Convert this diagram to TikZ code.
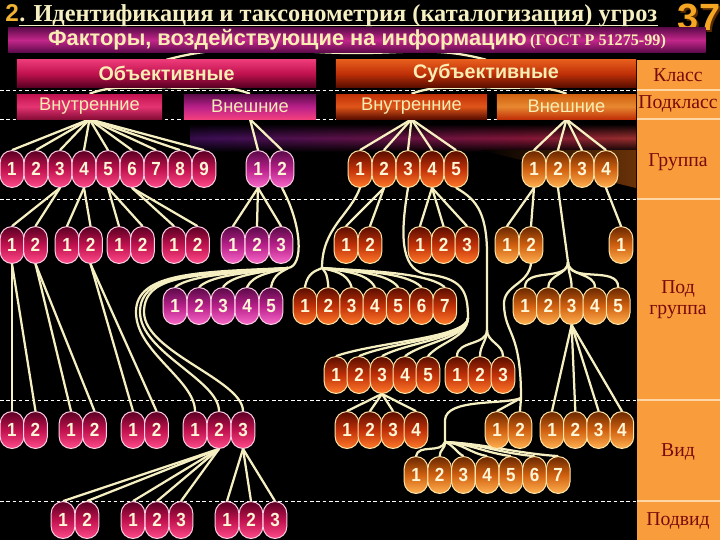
\documentclass[tikz,border=0pt]{standalone}
\usepackage{fontspec}
\setmainfont{Liberation Serif}
\setsansfont{Liberation Sans}
\newfontfamily\pillfont[FakeStretch=0.9]{Liberation Sans}
\usetikzlibrary{fadings}

\definecolor{cream}{HTML}{F5EFC2}
\definecolor{ivory}{HTML}{FFF6D6}
\definecolor{bartext}{HTML}{F8EEB4}
\definecolor{gold}{HTML}{F2B233}
\definecolor{num37}{HTML}{F5A623}
\definecolor{shadow37}{HTML}{5A2A00}
\definecolor{panel}{HTML}{F89C3C}
\definecolor{panelrule}{HTML}{FFD6A6}
\definecolor{paneltext}{HTML}{7A0A0A}
\definecolor{bandpurple}{HTML}{45105E}
\definecolor{bandred}{HTML}{90183E}
\definecolor{bandorange}{HTML}{D86A1C}
\definecolor{slopeorange}{HTML}{6A3208}
\definecolor{crimT}{HTML}{5A0022}
\definecolor{crimM}{HTML}{C0124E}
\definecolor{crimB}{HTML}{FF4A8A}
\definecolor{pinkT}{HTML}{5A0A48}
\definecolor{pinkM}{HTML}{B8208A}
\definecolor{pinkB}{HTML}{F868C8}
\definecolor{redT}{HTML}{5A0E00}
\definecolor{redM}{HTML}{C03008}
\definecolor{redB}{HTML}{FF7A2A}
\definecolor{orT}{HTML}{6A2800}
\definecolor{orM}{HTML}{D06010}
\definecolor{orB}{HTML}{FFB050}
\definecolor{pinkrim}{HTML}{FFD0E6}
\definecolor{goldrim}{HTML}{FFE6A8}

\pgfdeclarelayer{back}
\pgfdeclarelayer{wires}
\pgfsetlayers{back,wires,main}

\pgfdeclarehorizontalshading{bandshade}{100bp}{color(0bp)=(black); color(28bp)=(bandpurple); color(62bp)=(bandred); color(100bp)=(bandorange)}
\tikzfading[name=bandfade, top color=transparent!100, bottom color=transparent!100, middle color=transparent!10]

\begin{document}
\begin{tikzpicture}[x=0.025cm,y=0.025cm,
    link/.style={draw=cream,line width=1.6pt},
    rowrule/.style={draw=white,line width=0.5pt,dash pattern=on 2.5pt off 2pt},
    pill/.style={rectangle,rounded corners=0.29cm,minimum width=0.59cm,minimum height=0.92cm,inner sep=0pt,line width=0.7pt,text=ivory,font=\pillfont\bfseries\fontsize{13.5}{13.5}\selectfont},
    crimpill/.style={pill,draw=pinkrim,top color=crimT,bottom color=crimB,middle color=crimM},
    pinkpill/.style={pill,draw=pinkrim,top color=pinkT,bottom color=pinkB,middle color=pinkM},
    redpill/.style={pill,draw=goldrim,top color=redT,bottom color=redB,middle color=redM},
    orpill/.style={pill,draw=goldrim,top color=orT,bottom color=orB,middle color=orM},
    bar/.style={rectangle,inner sep=0pt,text=bartext},
    classbar/.style={bar,minimum height=0.675cm,font=\sffamily\bfseries\fontsize{14}{14}\selectfont},
    subbar/.style={bar,minimum height=0.625cm,font=\sffamily\fontsize{13}{13}\selectfont},
    lbl/.style={text=paneltext,align=center,font=\fontsize{14}{15}\selectfont}]

\useasboundingbox (0,0) rectangle (720,-540);

% background, band, level rules and panel
\begin{pgfonlayer}{back}
\fill[black] (0,0) rectangle (720,-540);
\shade[shading=bandshade,path fading=bandfade] (190,-124) rectangle (636,-152);
\shade[left color=black,right color=slopeorange] (480,-150) -- (636,-150) -- (636,-188) -- cycle;
\fill[panel] (637,-60) rectangle (720,-540);
\foreach \y in {90,119,199,400,501} {
    \draw[panelrule,line width=1pt] (637,-\y) -- (720,-\y);
    \draw[rowrule] (0,-\y) -- (636,-\y);
}
\end{pgfonlayer}

% title
\node[anchor=base west,inner sep=0pt,text=gold,font=\sffamily\bfseries\fontsize{17.3}{17.3}\selectfont] (tnum) at (5,-21) {2};
\node[anchor=base west,inner sep=0pt,text=cream,font=\bfseries\fontsize{17.3}{17.3}\selectfont] (ttext) at (tnum.base east) {. Идентификация и таксонометрия (каталогизация) угроз};
\draw[cream,line width=0.8pt] ([yshift=-3pt]ttext.base west) -- ([yshift=-3pt]ttext.base east);
\node[text=shadow37,font=\sffamily\bfseries\fontsize{27}{27}\selectfont] (pnumsh) at (701,-19) {37};
\node[text=num37,font=\sffamily\bfseries\fontsize{27}{27}\selectfont] (pnum) at (699,-17) {37};

% bars
\node[bar,minimum width=17.43cm,minimum height=0.64cm,top color=pinkT,bottom color=pinkT,middle color=pinkM!85!crimB] (fact) at (357,-40)
    {{\sffamily\bfseries\fontsize{15.5}{15.5}\selectfont Факторы, воздействующие на информацию} {\bfseries\fontsize{11.5}{11.5}\selectfont(ГОСТ Р 51275-99)}};
\node[classbar,minimum width=7.475cm,top color=crimB!70!crimM,bottom color=crimT,middle color=crimM] (obj) at (166.5,-73.5) {Объективные};
\node[classbar,minimum width=7.5cm,top color=redB!60!redM,bottom color=redT,middle color=redM] (subj) at (486,-73.5) {Субъективные};
\node[subbar,minimum width=3.625cm,top color=crimM,bottom color=crimM!70!black,middle color=crimB!60!crimM] (oin) at (89.5,-106.5) {Внутренние};
\node[subbar,minimum width=3.3cm,top color=pinkT,bottom color=crimB!80!crimM,middle color=pinkM] (oex) at (250,-106.5) {Внешние};
\node[subbar,minimum width=3.775cm,top color=redM,bottom color=redT,middle color=redB!50!redM] (sin) at (411.5,-106.5) {Внутренние};
\node[subbar,minimum width=3.475cm,top color=orM,bottom color=redM,middle color=orB!50!orM] (sex) at (566.5,-106.5) {Внешние};

% level labels
\node[lbl] (lklass) at (678,-75) {Класс};
\node[lbl] (lpodkl) at (678,-104) {Подкласс};
\node[lbl] (lgrp) at (678,-162) {Группа};
\node[lbl] (lpodgr) at (678,-300) {Под\\группа};
\node[lbl] (lvid) at (678,-452) {Вид};
\node[lbl] (lpodvid) at (678,-521) {Подвид};

% groups
\foreach \i in {1,...,9} \node[crimpill] (go\i) at ({12+24*(\i-1)},-169) {\i};
\foreach \i in {1,2} \node[pinkpill] (gx\i) at ({258+24*(\i-1)},-169) {\i};
\foreach \i in {1,...,5} \node[redpill] (gs\i) at ({360+24*(\i-1)},-169) {\i};
\foreach \i in {1,...,4} \node[orpill] (gt\i) at ({534+24*(\i-1)},-169) {\i};

% subgroups
\foreach \n/\x in {pa/12,pb/67,pc/119,pd/174}
    \foreach \i in {1,2} \node[crimpill] (\n\i) at ({\x+23.5*(\i-1)},-245) {\i};
\foreach \i in {1,2,3} \node[pinkpill] (pe\i) at ({233+24*(\i-1)},-245) {\i};
\foreach \i in {1,2} \node[redpill] (pf\i) at ({346+24*(\i-1)},-245) {\i};
\foreach \i in {1,2,3} \node[redpill] (pg\i) at ({420+23.5*(\i-1)},-245) {\i};
\foreach \i in {1,2} \node[orpill] (ph\i) at ({507+24*(\i-1)},-245) {\i};
\node[orpill] (pi1) at (621,-245) {1};
\foreach \i in {1,...,5} \node[pinkpill] (qa\i) at ({175+24*(\i-1)},-306) {\i};
\foreach \i in {1,...,7} \node[redpill] (qb\i) at ({305+23.3*(\i-1)},-306) {\i};
\foreach \i in {1,...,5} \node[orpill] (qc\i) at ({525+23.3*(\i-1)},-306) {\i};
\foreach \i in {1,...,5} \node[redpill] (ra\i) at ({336+23*(\i-1)},-375) {\i};
\foreach \i in {1,2,3} \node[redpill] (rb\i) at ({457+23*(\i-1)},-375) {\i};

% kinds
\foreach \n/\x in {va/12,vb/71,vc/133}
    \foreach \i in {1,2} \node[crimpill] (\n\i) at ({\x+23.5*(\i-1)},-430) {\i};
\foreach \i in {1,2,3} \node[crimpill] (vd\i) at ({195+24*(\i-1)},-430) {\i};
\foreach \i in {1,...,4} \node[redpill] (ve\i) at ({347+23*(\i-1)},-430) {\i};
\foreach \i in {1,2} \node[orpill] (vf\i) at ({497+23*(\i-1)},-430) {\i};
\foreach \i in {1,...,4} \node[orpill] (vg\i) at ({552+23.3*(\i-1)},-430) {\i};
\foreach \i in {1,...,7} \node[orpill] (vh\i) at ({416+23.7*(\i-1)},-475) {\i};

% subkinds
\foreach \i in {1,2} \node[crimpill] (wa\i) at ({63+24*(\i-1)},-520) {\i};
\foreach \i in {1,2,3} \node[crimpill] (wb\i) at ({133+24*(\i-1)},-520) {\i};
\foreach \i in {1,2,3} \node[crimpill] (wc\i) at ({227+24*(\i-1)},-520) {\i};

\begin{pgfonlayer}{wires}
% class and subclass links
\draw[link] (fact.south) to[out=180,in=15] (obj.north);
\draw[link] (fact.south) to[out=0,in=165] (subj.north);
\draw[link] (obj.south) to[out=185,in=20] (oin.north);
\draw[link] (obj.south) to[out=-5,in=160] (oex.north);
\draw[link] (subj.south) to[out=185,in=20] (sin.north);
\draw[link] (subj.south) to[out=-5,in=160] (sex.north);

\foreach \i in {1,...,9} \path[link] (oin.south) edge (go\i.north);
\foreach \i in {1,2} \path[link] (oex.south) edge (gx\i.north);
\foreach \i in {1,...,5} \path[link] (sin.south) edge (gs\i.north);
\foreach \i in {1,...,4} \path[link] (sex.south) edge (gt\i.north);

% group to subgroup
\path[link] (go3.south) edge (pa1.north) edge (pa2.north);
\path[link] (go4.south) edge (pb1.north) edge (pb2.north);
\path[link] (go5.south) edge (pc1.north) edge (pc2.north);
\path[link] (go6.south) edge (pd1.north) edge (pd2.north);
\foreach \i in {1,2,3} \path[link] (gx1.south) edge (pe\i.north);
\path[link] (gs2.south) edge (pf1.north) edge (pf2.north);
\foreach \i in {1,2,3} \path[link] (gs4.south) edge (pg\i.north);
\path[link] (gt1.south) edge (ph1.north) edge (ph2.north);
\path[link] (gt4.south) edge (pi1.north);

% long curved branches
\coordinate (kx) at (288,-268);
\draw[link] (gx2.south) .. controls (302,-225) and (304,-266) .. (kx);
\foreach \i in {1,...,5} {
    \pgfmathsetmacro\x{175+24*(\i-1)}
    \draw[link] (kx) .. controls ({288-0.35*(288-\x)},-272) and ({\x+0.15*(288-\x)},-274) .. (qa\i.north);
}
\foreach \i/\o in {1/0,2/4,3/8}
    \draw[link] (kx) .. controls (200,{-272-\o/2}) and ({136+\o},-272) .. ({136+\o},-312)
        .. controls ({136+\o},-352) and ({171+24*\i},-380) .. (vd\i.north);

\coordinate (ks) at (322,-268);
\draw[link] (gs1.south) .. controls (350,-215) and (322,-228) .. (ks);
\foreach \i in {1,...,7} {
    \pgfmathsetmacro\x{305+23.3*(\i-1)}
    \draw[link] (ks) .. controls ({322+0.35*(\x-322)},-271) and ({\x-0.15*(\x-322)},-272) .. (qb\i.north);
}

\coordinate (kr) at (468,-318);
\draw[link] (gs3.south) .. controls (401,-230) and (399,-268) .. (425,-274) .. controls (462,-278) and (468,-290) .. (kr);
\foreach \i in {1,...,5} {
    \pgfmathsetmacro\x{336+23*(\i-1)}
    \draw[link] (kr) .. controls (467,-338) and ({\x+0.3*(467-\x)},-342) .. (ra\i.north);
}

\coordinate (kb) at (487,-330);
\draw[link] (gs5.south) .. controls (478,-200) and (488,-215) .. (487,-262) -- (kb);
\foreach \i in {1,2,3} \draw[link] (kb) to[out=-90,in=90] (rb\i.north);

\coordinate (kt) at (568,-262);
\draw[link] (gt2.south) -- (kt);
\foreach \i in {1,...,5} \draw[link] (kt) to[out=-90,in=90] (qc\i.north);

\coordinate (kf) at (521,-398);
\draw[link] (ph2.south) .. controls (528,-285) and (503,-285) .. (504,-305) .. controls (505,-335) and (521,-330) .. (kf);
\path[link] (kf) edge (vf1.north) edge (vf2.north);
\coordinate (kv) at (445,-442);
\draw[link] (kf) .. controls (505,-405) and (446,-398) .. (445,-420) -- (kv);
\foreach \i/\a/\b in {1/-110/80,2/-80/95,3/-20/150,4/-5/170,5/-5/172,6/-3/175,7/-3/176}
    \draw[link] (kv) to[out=\a,in=\b] (vh\i.north);

% subgroup to kind
\path[link] (pa1.south) edge (va1.north) edge (va2.north);
\path[link] (pa2.south) edge (vb1.north) edge (vb2.north);
\path[link] (pb2.south) edge (vc1.north) edge (vc2.north);
\foreach \i in {1,...,4} \path[link] (ra3.south) edge (ve\i.north);
\foreach \i in {1,...,4} \path[link] (qc3.south) edge (vg\i.north);

% kind to subkind
\foreach \n/\k in {wa/1,wa/2,wb/1,wb/2,wb/3} \path[link] (vd2.south) edge (\n\k.north);
\foreach \i in {1,2,3} \path[link] (vd3.south) edge (wc\i.north);
\end{pgfonlayer}
\end{tikzpicture}
\end{document}
